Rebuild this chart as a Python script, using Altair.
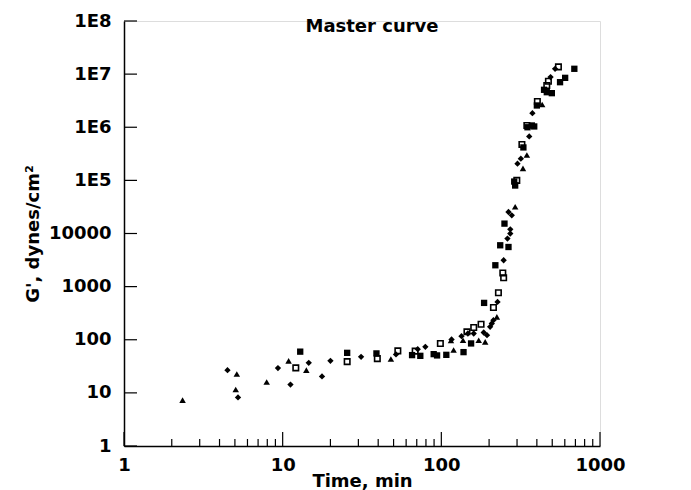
import altair as alt
import pandas as pd

# ---- data ----
tri_x = [2.34, 5.14, 5.06, 7.93, 10.9, 14.1, 48.1, 115, 119.5, 137, 172, 189, 224, 292, 327, 346, 432]
tri_y = [7.3, 22.6, 11.6, 16.0, 40.1, 26.8, 43.5, 97, 64, 98, 98, 91, 269, 31800, 168000, 300000, 2.68e6]

dia_x = [4.49, 5.23, 9.34, 11.2, 14.6, 17.7, 20.0, 31.2, 51.8, 71.0, 79.3, 116, 134, 147, 160, 185,
         194, 203, 208, 213, 226, 247, 261, 272, 272, 265, 278, 302, 317, 358, 375, 488, 521]
dia_y = [26.8, 8.2, 29.3, 14.3, 36.8, 20.4, 40.1, 47.7, 52.9, 66.6, 73.6, 101, 117, 131, 131, 137,
         122, 175, 202, 234, 516, 3135, 8020, 9960, 12000, 25400, 22000, 206000, 256000, 672000,
         1.84e6, 8.81e6, 1.26e7]

fsq_x = [12.9, 25.5, 39.0, 65.4, 73.7, 89.5, 94.0, 107.5, 138, 154, 186, 219, 235, 265, 250, 288,
         292, 329, 349, 372, 385, 400, 444, 462, 497, 560, 603, 689]
fsq_y = [59.7, 56.7, 55.3, 51.4, 49.8, 53.6, 50.7, 52.0, 58.5, 85.2, 494, 2525, 6000, 5570, 15350,
         95000, 80000, 417000, 1.0e6, 1.08e6, 1.035e6, 2.57e6, 5.07e6, 4.57e6, 4.38e6, 7.05e6,
         8.51e6, 1.26e7]

osq_x = [12.1, 25.5, 39.5, 53.2, 68.4, 98.6, 145, 160, 178, 213, 229, 244, 247, 299, 322, 346, 403,
         462, 473, 547]
osq_y = [29.6, 38.7, 44.1, 61.8, 61.1, 85.2, 141, 170, 196, 405, 768, 1810, 1470, 100000, 475000,
         1.08e6, 3.05e6, 6.1e6, 7.36e6, 1.37e7]

x_major = [1, 10, 100, 1000]
x_minor = [2, 3, 4, 5, 6, 7, 8, 9, 20, 30, 40, 50, 60, 70, 80, 90, 200, 300, 400, 500, 600, 700, 800, 900]
y_major = [1, 10, 100, 1000, 10000, 1e5, 1e6, 1e7, 1e8]

title_text = ["Master curve"]

FONT = "DejaVu Sans"
W, H = 476, 425

xscale = alt.Scale(type="log", domain=[1, 1000], nice=False)
yscale = alt.Scale(type="log", domain=[1, 1e8], nice=False)

xaxis = alt.Axis(values=x_major, labelExpr="format(datum.value, 'd')", grid=False, ticks=False,
                 tickSize=0, labelPadding=10, labelFont=FONT, labelFontSize=18,
                 labelFontWeight="bold", labelColor="black", domainColor="black",
                 domainWidth=1.5, title="Time, min", titleFont=FONT, titleFontSize=18,
                 titleFontWeight="bold", titleColor="black", titlePadding=-2, labelFlush=False)
yaxis = alt.Axis(values=y_major,
                 labelExpr="datum.value >= 100000 ? '1E' + round(log(datum.value)/LN10) : format(datum.value, 'd')",
                 grid=False, ticks=False, tickSize=0, labelPadding=13, labelFont=FONT,
                 labelFontSize=18, labelFontWeight="bold", labelColor="black", domainColor="black",
                 domainWidth=1.5, title="G', dynes/cm²", titleFont=FONT, titleFontSize=18,
                 titleFontWeight="bold", titleColor="black", titlePadding=6, labelFlush=False)


def series(xs, ys, shape, filled, size):
    df = pd.DataFrame({"t": xs, "g": ys})
    if filled:
        m = alt.Chart(df).mark_point(shape=shape, filled=True, color="black", size=size, opacity=1)
    else:
        m = alt.Chart(df).mark_point(shape=shape, filled=False, color="black", size=size,
                                     strokeWidth=1.6, opacity=1)
    return m.encode(x=alt.X("t:Q", scale=xscale, axis=xaxis),
                    y=alt.Y("g:Q", scale=yscale, axis=yaxis))


ticks_y = alt.Chart(pd.DataFrame({"v": y_major})).mark_rule(color="black", strokeWidth=1.2).encode(
    y=alt.Y("v:Q", scale=yscale, axis=yaxis), x=alt.value(0), x2=alt.value(13))
ticks_xM = alt.Chart(pd.DataFrame({"v": x_major})).mark_rule(color="black", strokeWidth=1.2).encode(
    x=alt.X("v:Q", scale=xscale, axis=xaxis), y=alt.value(H), y2=alt.value(H - 14))
ticks_xm = alt.Chart(pd.DataFrame({"v": x_minor})).mark_rule(color="black", strokeWidth=1.2).encode(
    x=alt.X("v:Q", scale=xscale, axis=xaxis), y=alt.value(H), y2=alt.value(H - 7))

title = alt.Chart(pd.DataFrame({"s": title_text})).mark_text(
    font=FONT, fontSize=18, fontWeight="bold", color="black", align="center", baseline="middle"
).encode(text="s:N", x=alt.value(248), y=alt.value(6))

chart = alt.layer(
    ticks_y, ticks_xM, ticks_xm,
    series(tri_x, tri_y, "triangle-up", True, 42),
    series(dia_x, dia_y, "diamond", True, 40),
    series(fsq_x, fsq_y, "square", True, 40),
    series(osq_x, osq_y, "square", False, 30),
    title,
).properties(
    width=W, height=H,
    autosize=alt.AutoSizeParams(type="none"),
    padding={"left": 116, "top": 13, "right": 83, "bottom": 46},
).configure_view(stroke=None).configure(background="white")

chart.save("out.html", embed_options={"renderer": "svg", "actions": False})
